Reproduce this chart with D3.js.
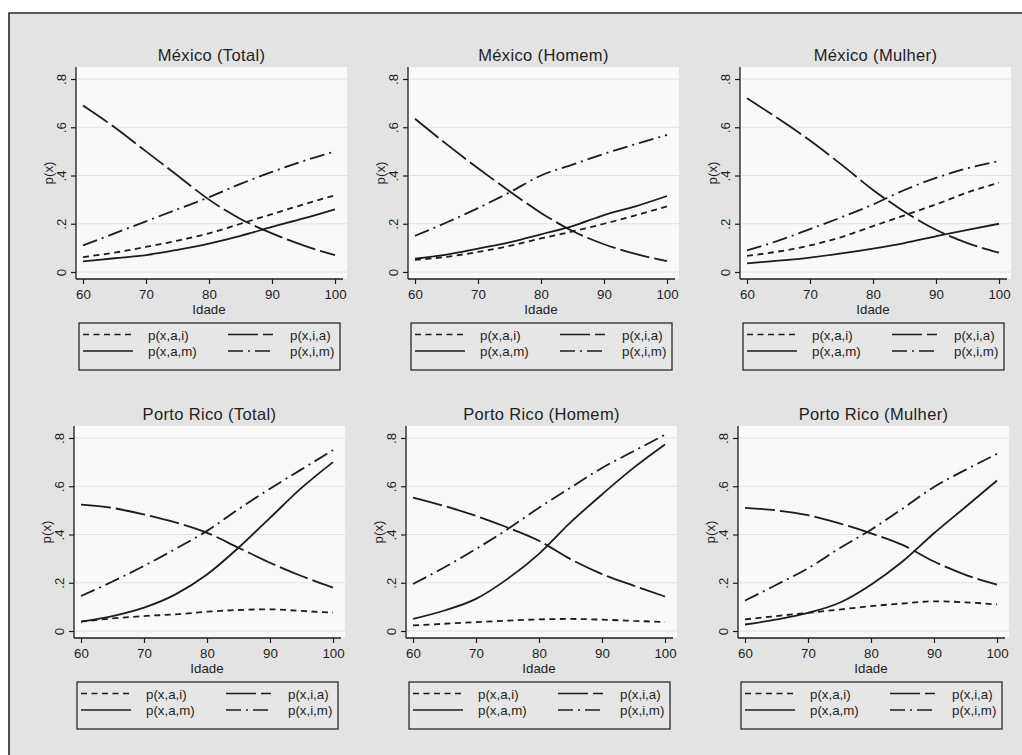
<!DOCTYPE html>
<html><head><meta charset="utf-8">
<script src="https://cdn.jsdelivr.net/npm/d3@7"></script>
<style>
body{margin:0;background:#fff}
svg{display:block}
text{font-family:"Liberation Sans",Arial,Helvetica,sans-serif;fill:#1e1e1e;font-weight:normal}
</style>
</head><body>
<svg id="chart" width="1022" height="755"></svg>
<script>
// ---- data ----
const ages = [60, 65, 70, 75, 80, 85, 90, 95, 100];
const xTicks = [60, 70, 80, 90, 100];
const yTicks = [0, 0.2, 0.4, 0.6, 0.8];
const yTickLabels = ["0", ".2", ".4", ".6", ".8"];
const seriesNames = ["p(x,a,i)", "p(x,i,a)", "p(x,a,m)", "p(x,i,m)"];
const panelTitles = ["México (Total)", "México (Homem)", "México (Mulher)",
                     "Porto Rico (Total)", "Porto Rico (Homem)", "Porto Rico (Mulher)"];
const xTitle = "Idade";
const yTitle = "p(x)";

// México (Total)
const mexTotal_pai = [0.062, 0.080, 0.104, 0.130, 0.160, 0.200, 0.240, 0.280, 0.318];
const mexTotal_pia = [0.690, 0.600, 0.500, 0.400, 0.300, 0.220, 0.160, 0.110, 0.070];
const mexTotal_pam = [0.044, 0.057, 0.070, 0.092, 0.118, 0.150, 0.187, 0.222, 0.260];
const mexTotal_pim = [0.110, 0.160, 0.210, 0.260, 0.310, 0.365, 0.415, 0.460, 0.500];
// México (Homem)
const mexHomem_pai = [0.050, 0.063, 0.083, 0.108, 0.139, 0.168, 0.200, 0.235, 0.272];
const mexHomem_pia = [0.635, 0.530, 0.430, 0.335, 0.245, 0.170, 0.115, 0.075, 0.045];
const mexHomem_pam = [0.055, 0.072, 0.097, 0.123, 0.156, 0.190, 0.236, 0.272, 0.315];
const mexHomem_pim = [0.150, 0.205, 0.265, 0.330, 0.400, 0.445, 0.490, 0.530, 0.568];
// México (Mulher)
const mexMulher_pai = [0.067, 0.085, 0.110, 0.145, 0.190, 0.235, 0.280, 0.330, 0.370];
const mexMulher_pia = [0.720, 0.635, 0.545, 0.445, 0.340, 0.250, 0.175, 0.120, 0.080];
const mexMulher_pam = [0.036, 0.047, 0.060, 0.077, 0.097, 0.120, 0.148, 0.175, 0.200];
const mexMulher_pim = [0.090, 0.130, 0.178, 0.227, 0.280, 0.340, 0.390, 0.430, 0.460];
// Porto Rico (Total)
const prTotal_pai = [0.039, 0.052, 0.062, 0.069, 0.080, 0.087, 0.090, 0.083, 0.076];
const prTotal_pia = [0.524, 0.510, 0.483, 0.450, 0.407, 0.345, 0.283, 0.228, 0.180];
const prTotal_pam = [0.039, 0.062, 0.097, 0.152, 0.234, 0.345, 0.469, 0.593, 0.700];
const prTotal_pim = [0.145, 0.205, 0.270, 0.340, 0.415, 0.505, 0.590, 0.670, 0.750];
// Porto Rico (Homem)
const prHomem_pai = [0.023, 0.030, 0.037, 0.043, 0.048, 0.050, 0.047, 0.042, 0.037];
const prHomem_pia = [0.553, 0.518, 0.477, 0.429, 0.374, 0.298, 0.236, 0.188, 0.143];
const prHomem_pam = [0.050, 0.085, 0.133, 0.216, 0.320, 0.450, 0.566, 0.676, 0.773];
const prHomem_pim = [0.195, 0.264, 0.340, 0.422, 0.511, 0.594, 0.676, 0.745, 0.814];
// Porto Rico (Mulher)
const prMulher_pai = [0.048, 0.062, 0.075, 0.089, 0.103, 0.114, 0.123, 0.119, 0.110];
const prMulher_pia = [0.510, 0.500, 0.480, 0.446, 0.405, 0.357, 0.288, 0.233, 0.192];
const prMulher_pam = [0.027, 0.048, 0.075, 0.117, 0.192, 0.288, 0.405, 0.514, 0.624];
const prMulher_pim = [0.126, 0.192, 0.260, 0.343, 0.420, 0.507, 0.597, 0.668, 0.734];

const panelSeries = [
  [mexTotal_pai, mexTotal_pia, mexTotal_pam, mexTotal_pim],
  [mexHomem_pai, mexHomem_pia, mexHomem_pam, mexHomem_pim],
  [mexMulher_pai, mexMulher_pia, mexMulher_pam, mexMulher_pim],
  [prTotal_pai, prTotal_pia, prTotal_pam, prTotal_pim],
  [prHomem_pai, prHomem_pia, prHomem_pam, prHomem_pim],
  [prMulher_pai, prMulher_pia, prMulher_pam, prMulher_pim]
];

// ---- styles ----
const dashes = ["6,4.5", "30,5", null, "15,5,2,5"];
const ink = "#1c1c1c";
const small = "13.3px";

const svg = d3.select("#chart");

// background / outer frame
svg.append("rect").attr("x", 9).attr("y", 13).attr("width", 1013).attr("height", 742)
  .attr("fill", "#e3e3e3");
svg.append("path").attr("d", "M9,755V13H1022")
  .attr("fill", "none").attr("stroke", "#2a2a2a").attr("stroke-width", 1.6);

panelTitles.forEach((title, i) => {
  const c = i % 3, r = Math.floor(i / 3);
  const x0px = 83 + 332 * c - 2 * r;
  const y0px = 272 + 359 * r;
  const x = d3.scaleLinear().domain([60, 100]).range([x0px, x0px + 252]);
  const y = d3.scaleLinear().domain([0, 0.8]).range([y0px, y0px - 193]);

  const g = svg.append("g");
  const axX = x(60) - 7;        // y-axis line position
  const axY = y(0) + 7;         // x-axis line position
  const topY = y(0.85);
  const rightX = x(100) + 12;

  // plot region
  g.append("rect").attr("x", axX).attr("y", topY)
    .attr("width", rightX - axX).attr("height", axY - topY).attr("fill", "#f9f9f9");

  // gridlines
  g.selectAll(".grid").data(yTicks).join("line")
    .attr("x1", axX + 1).attr("x2", rightX)
    .attr("y1", d => y(d)).attr("y2", d => y(d))
    .attr("stroke", "#dcdcdc").attr("stroke-width", 0.8);

  // axes
  const yAxis = d3.axisLeft(y).tickValues(yTicks)
    .tickFormat((d, k) => yTickLabels[k]).tickSize(5).tickPadding(0);
  const ya = g.append("g").attr("transform", `translate(${axX},0)`).call(yAxis);
  ya.attr("font-family", null).attr("font-size", null);
  ya.select(".domain").remove();
  ya.selectAll(".tick line").attr("stroke", ink).attr("stroke-width", 1.2);
  ya.selectAll(".tick text")
    .attr("x", null).attr("dy", null)
    .attr("text-anchor", "middle")
    .attr("transform", "translate(-10,0) rotate(-90)")
    .style("font-size", small).attr("fill", ink);
  g.append("line").attr("x1", axX).attr("x2", axX).attr("y1", topY).attr("y2", axY)
    .attr("stroke", ink).attr("stroke-width", 1.3);

  const xAxis = d3.axisBottom(x).tickValues(xTicks).tickSize(5).tickPadding(4);
  const xa = g.append("g").attr("transform", `translate(0,${axY})`).call(xAxis);
  xa.attr("font-family", null).attr("font-size", null);
  xa.select(".domain").remove();
  xa.selectAll(".tick line").attr("stroke", ink).attr("stroke-width", 1.2);
  xa.selectAll(".tick text").attr("dy", null).attr("y", 20)
    .style("font-size", small).attr("fill", ink);
  g.append("line").attr("x1", axX).attr("x2", x(100) + 8).attr("y1", axY).attr("y2", axY)
    .attr("stroke", ink).attr("stroke-width", 1.3);

  // axis titles
  g.append("text").attr("transform", `translate(${axX - 23.5},${(topY + axY) / 2}) rotate(-90)`)
    .attr("text-anchor", "middle").style("font-size", small).text(yTitle);
  g.append("text").attr("x", (x(60) + x(100)) / 2).attr("y", axY + 34.5)
    .attr("text-anchor", "middle").style("font-size", small).text(xTitle);

  // panel title
  g.append("text").attr("x", (axX + rightX) / 2).attr("y", y(0.8) - 18)
    .attr("text-anchor", "middle").style("font-size", "16.5px")
    .style("letter-spacing", "0.35px").text(title);

  // lines
  const line = d3.line().x((d, k) => x(ages[k])).y(d => y(d)).curve(d3.curveMonotoneX);
  panelSeries[i].forEach((vals, s) => {
    g.append("path").attr("d", line(vals)).attr("fill", "none")
      .attr("stroke", ink).attr("stroke-width", 1.8)
      .attr("stroke-dasharray", dashes[s]);
  });

  // legend
  const lx = x(60) - 4, ly = y(0) + 51;
  const lw = x(100) + 5 - lx, lh = 47;
  const lg = g.append("g").attr("transform", `translate(${lx},${ly})`);
  lg.append("rect").attr("width", lw).attr("height", lh)
    .attr("fill", "#e6e6e6").attr("stroke", ink).attr("stroke-width", 1.2);
  const cols = [[4, 54, 69], [149, 194, 211]];
  seriesNames.forEach((name, s) => {
    const col = cols[s % 2];
    const row = Math.floor(s / 2);
    const ly2 = 11.5 + row * 16.5;
    lg.append("line").attr("x1", col[0]).attr("x2", col[1]).attr("y1", ly2).attr("y2", ly2)
      .attr("stroke", ink).attr("stroke-width", 1.6).attr("stroke-dasharray", dashes[s]);
    lg.append("text").attr("x", col[2]).attr("y", ly2 + 5)
      .style("font-size", small).text(name);
  });
});
</script>
</body></html>
